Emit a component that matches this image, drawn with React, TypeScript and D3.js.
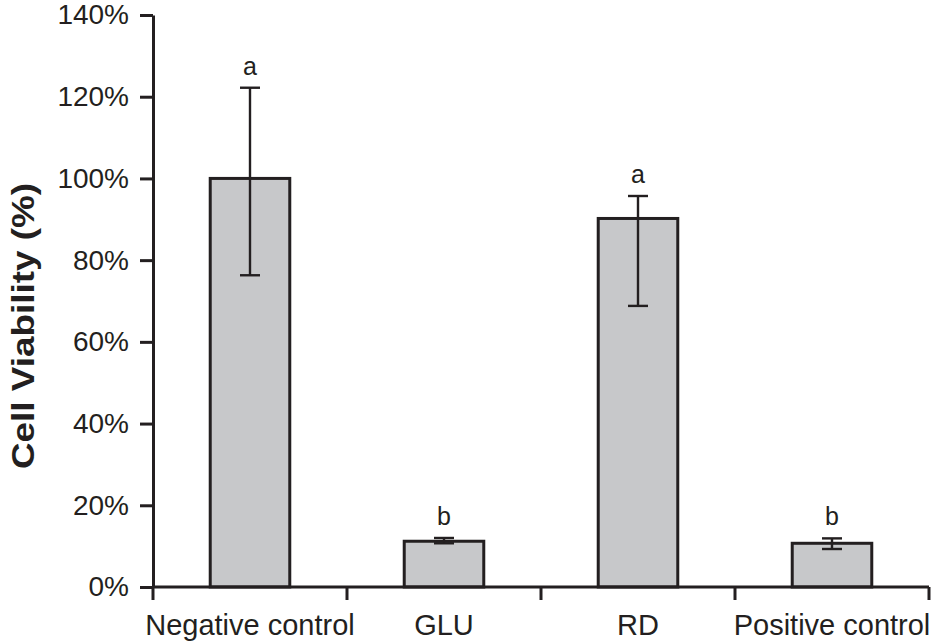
import { useEffect, useRef } from "react";
import * as d3 from "d3";

const categories = ["Negative control", "GLU", "RD", "Positive control"];
const means = [100, 11.2, 90.2, 10.7];
const errHigh = [122.2, 12.0, 95.7, 11.9];
const errLow = [76.3, 10.7, 68.8, 9.3];
const letters = ["a", "b", "a", "b"];
const yTicks = [0, 20, 40, 60, 80, 100, 120, 140];

const W = 942;
const H = 644;
const LEFT = 153;
const RIGHT = 929;
const TOP = 15;
const BOTTOM = 587;
const INK = "#231f20";
const FONT = "'Liberation Sans', Arial, sans-serif";

export default function App() {
  const gRef = useRef<SVGGElement>(null);

  useEffect(() => {
    if (!gRef.current) return;
    const g = d3.select(gRef.current);
    g.selectAll("*").remove();

    const x = d3.scaleBand<string>().domain(categories).range([LEFT, RIGHT]);
    const y = d3.scaleLinear().domain([0, 140]).range([BOTTOM, TOP]);
    const bw = x.bandwidth();
    const barW = bw * 0.41;
    const capW = 20;

    /* bars */
    g.selectAll("rect.bar")
      .data(categories)
      .join("rect")
      .attr("class", "bar")
      .attr("x", (d) => (x(d) ?? 0) + (bw - barW) / 2)
      .attr("y", (_, i) => y(means[i]))
      .attr("width", barW)
      .attr("height", (_, i) => y(0) - y(means[i]))
      .attr("fill", "#c7c8ca")
      .attr("stroke", INK)
      .attr("stroke-width", 3);

    /* error bars + letters */
    categories.forEach((c, i) => {
      const cx = (x(c) ?? 0) + bw / 2;
      const eg = g.append("g").attr("stroke", INK).attr("stroke-width", 2.4);
      eg.append("line")
        .attr("x1", cx).attr("x2", cx)
        .attr("y1", y(errHigh[i])).attr("y2", y(errLow[i]));
      [errHigh[i], errLow[i]].forEach((v) => {
        eg.append("line")
          .attr("x1", cx - capW / 2).attr("x2", cx + capW / 2)
          .attr("y1", y(v)).attr("y2", y(v));
      });
      g.append("text")
        .attr("x", cx)
        .attr("y", y(errHigh[i]) - 13)
        .attr("text-anchor", "middle")
        .attr("font-family", FONT)
        .attr("font-size", 25)
        .attr("fill", INK)
        .text(letters[i]);
    });

    /* y axis */
    const yAxis = g.append("g")
      .attr("transform", `translate(${LEFT},0)`)
      .call(
        d3.axisLeft(y)
          .tickValues(yTicks)
          .tickSize(13)
          .tickSizeOuter(0)
          .tickPadding(11)
          .tickFormat((d) => `${d}%`)
      );
    yAxis.selectAll("text")
      .attr("font-family", FONT)
      .attr("font-size", 28)
      .attr("fill", INK);
    yAxis.selectAll(".domain, .tick line")
      .attr("stroke", INK)
      .attr("stroke-width", 3);

    /* x axis */
    g.append("line")
      .attr("x1", LEFT).attr("x2", RIGHT)
      .attr("y1", y(0)).attr("y2", y(0))
      .attr("stroke", INK).attr("stroke-width", 3);
    const bounds = [...categories.map((c) => x(c) ?? 0), RIGHT];
    g.selectAll("line.xtick")
      .data(bounds)
      .join("line")
      .attr("class", "xtick")
      .attr("x1", (d) => d).attr("x2", (d) => d)
      .attr("y1", y(0)).attr("y2", y(0) + 13)
      .attr("stroke", INK).attr("stroke-width", 3);
    g.selectAll("text.xlab")
      .data(categories)
      .join("text")
      .attr("class", "xlab")
      .attr("x", (d) => (x(d) ?? 0) + bw / 2)
      .attr("y", 635)
      .attr("text-anchor", "middle")
      .attr("font-family", FONT)
      .attr("font-size", 29)
      .attr("fill", INK)
      .text((d) => d);

    /* y label */
    g.append("text")
      .attr("transform", `translate(34,326) rotate(-90)`)
      .attr("text-anchor", "middle")
      .attr("font-family", FONT)
      .attr("font-size", 31)
      .attr("font-weight", "bold")
      .attr("textLength", 286)
      .attr("lengthAdjust", "spacingAndGlyphs")
      .attr("fill", INK)
      .text("Cell Viability (%)");
  }, []);

  return (
    <svg
      width={W}
      height={H}
      style={{ position: "absolute", left: 0, top: 0, background: "#fff" }}
    >
      <g ref={gRef} />
    </svg>
  );
}
